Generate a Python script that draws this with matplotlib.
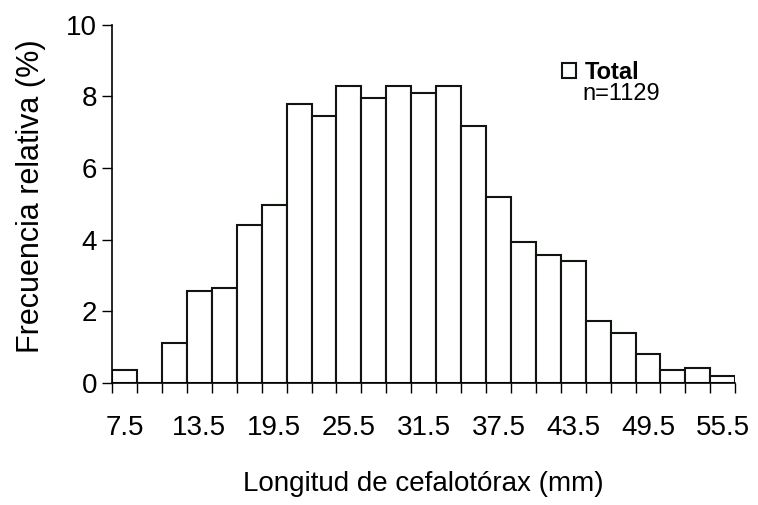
import numpy as np
import matplotlib
matplotlib.use('Agg')
import matplotlib.pyplot as plt

plt.rcParams['font.family'] = ['Liberation Sans', 'DejaVu Sans']

# class midpoints (mm) and relative frequency (%)
centers = [7.5, 9.5, 11.5, 13.5, 15.5, 17.5, 19.5, 21.5, 23.5, 25.5, 27.5, 29.5, 31.5,
           33.5, 35.5, 37.5, 39.5, 41.5, 43.5, 45.5, 47.5, 49.5, 51.5, 53.5, 55.5]
freq = [0.36, 0.0, 1.1, 2.55, 2.65, 4.4, 4.97, 7.8, 7.45, 8.28, 7.95, 8.28, 8.1,
        8.28, 7.17, 5.18, 3.92, 3.56, 3.4, 1.73, 1.4, 0.8, 0.35, 0.41, 0.2]
label_ticks = [7.5, 13.5, 19.5, 25.5, 31.5, 37.5, 43.5, 49.5, 55.5]
bin_w = 2.0

fig = plt.figure(figsize=(7.58, 5.05), dpi=100)
ax = fig.add_axes([0.148, 0.242, 0.822, 0.709])

ax.bar(centers, freq, width=bin_w, color='white', edgecolor='#101510',
       linewidth=1.5, label='Total', zorder=2)

ax.set_xlim(6.5, 56.5)
ax.set_ylim(0, 10)
ax.spines['top'].set_visible(False)
ax.spines['right'].set_visible(False)
ax.spines['left'].set_linewidth(1.2)
ax.spines['bottom'].set_linewidth(1.2)

edges = np.arange(6.5, 57.0, bin_w)
ax.set_xticks(edges)
ax.set_xticklabels([])
ax.tick_params(axis='x', which='major', direction='out', length=7, width=1.0)
ax.set_xticks(label_ticks, minor=True)
ax.set_xticklabels([str(v) for v in label_ticks], minor=True)
ax.tick_params(axis='x', which='minor', length=0, pad=23, labelsize=20)

ax.set_yticks([0, 2, 4, 6, 8, 10])
ax.tick_params(axis='y', direction='out', length=7, width=1.0, pad=4, labelsize=20)

ax.set_xlabel('Longitud de cefalotórax (mm)', fontsize=20)
ax.xaxis.set_label_coords(0.5, -0.245)
ax.set_ylabel('Frecuencia relativa (%)', fontsize=22)
ax.yaxis.set_label_coords(-0.107, 0.52)

leg = ax.legend(loc='upper left', bbox_to_anchor=(0.722, 0.9), frameon=False,
                prop={'size': 17, 'weight': 'bold'}, handlelength=0.6,
                handleheight=0.6, handletextpad=0.35, borderpad=0,
                borderaxespad=0)
ax.text(0.754, 0.79, 'n=1129', transform=ax.transAxes, fontsize=17,
        ha='left', va='baseline')

fig.savefig('out.png', dpi=100)
